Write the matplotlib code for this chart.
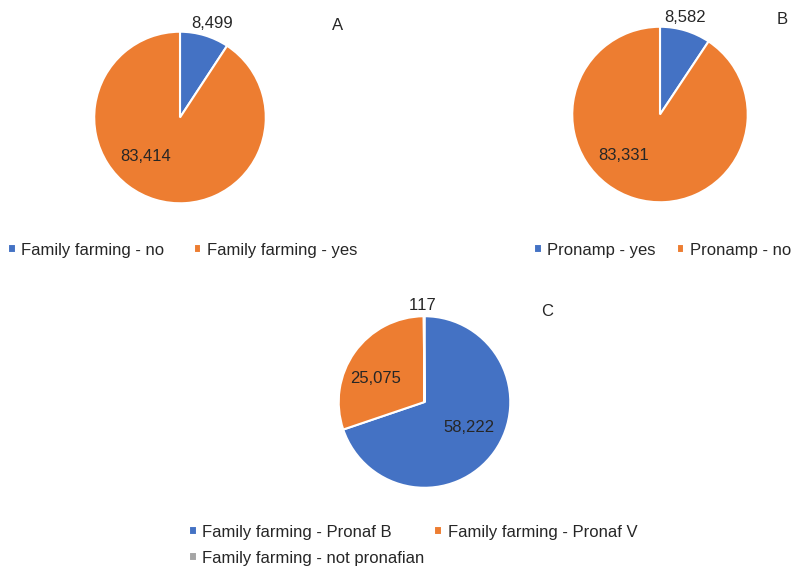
import matplotlib
matplotlib.use("Agg")
import matplotlib.pyplot as plt

plt.rcParams['font.family'] = ['Liberation Sans', 'DejaVu Sans']
plt.rcParams['font.size'] = 12
plt.rcParams['text.kerning_factor'] = 10  # effectively no pair kerning

BLUE = '#4472C4'
ORANGE = '#ED7D31'
GREY = '#A5A5A5'
TXT = '#262626'

# panel A
fam_labels = ['Family farming - no', 'Family farming - yes']
fam_values = [8499, 83414]
# panel B
pronamp_labels = ['Pronamp - yes', 'Pronamp - no']
pronamp_values = [8582, 83331]
# panel C
pronaf_labels = ['Family farming - Pronaf B', 'Family farming - Pronaf V',
                 'Family farming - not pronafian']
pronaf_values = [58222, 25075, 117]

W, H = 793, 568
fig = plt.figure(figsize=(W / 100, H / 100), dpi=100)


def pie_axes(cx, cy, r):
    # axes in pixel units, origin top-left
    ax = fig.add_axes([(cx - r) / W, (H - cy - r) / H, 2 * r / W, 2 * r / H])
    return ax


def draw_pie(ax, values, colors, label_pos):
    wedges, _ = ax.pie(values, colors=colors, startangle=90, counterclock=False,
                       wedgeprops=dict(edgecolor='white', linewidth=1.5))
    ax.set_xlim(-1.02, 1.02)
    ax.set_ylim(-1.02, 1.02)
    for v, (x, y) in zip(values, label_pos):
        ax.text(x, y, f"{v:,}", ha='center', va='center', fontsize=12, color=TXT,
                clip_on=False)
    return wedges


axA = pie_axes(180, 117.5, 87.5)
wA = draw_pie(axA, fam_values, [BLUE, ORANGE], [(0.38, 1.09), (-0.40, -0.45)])

axB = pie_axes(660, 114.5, 89.5)
wB = draw_pie(axB, pronamp_values, [BLUE, ORANGE], [(0.29, 1.11), (-0.41, -0.47)])

axC = pie_axes(424.5, 402, 87.5)
wC = draw_pie(axC, pronaf_values, [BLUE, ORANGE, GREY],
              [(0.52, -0.30), (-0.57, 0.27), (-0.02, 1.13)])

fig.text(338 / W, 1 - 26 / H, 'A', ha='center', va='center', fontsize=12, color=TXT)
fig.text(782 / W, 1 - 20 / H, 'B', ha='center', va='center', fontsize=12, color=TXT)
fig.text(547 / W, 1 - 312 / H, 'C', ha='center', va='center', fontsize=12, color=TXT)

leg_kw = dict(frameon=False, handlelength=0.45, handleheight=0.45,
              handletextpad=0.35, fontsize=12, labelcolor=TXT, borderpad=0,
              borderaxespad=0, loc='center left')

fig.legend(wA, fam_labels, ncol=2, columnspacing=1.75,
           bbox_to_anchor=(8 / W, 1 - 250 / H), **leg_kw)
fig.legend(wB, pronamp_labels, ncol=2, columnspacing=1.25,
           bbox_to_anchor=(534 / W, 1 - 250 / H), **leg_kw)
# panel C legend: two items on the first row, the third one below
fig.legend(wC[:2], pronaf_labels[:2], ncol=2, columnspacing=2.55,
           bbox_to_anchor=(189 / W, 1 - 532 / H), **leg_kw)
fig.legend(wC[2:], pronaf_labels[2:], ncol=1,
           bbox_to_anchor=(189 / W, 1 - 558 / H), **leg_kw)

fig.savefig('out.png', dpi=100, facecolor='white')
